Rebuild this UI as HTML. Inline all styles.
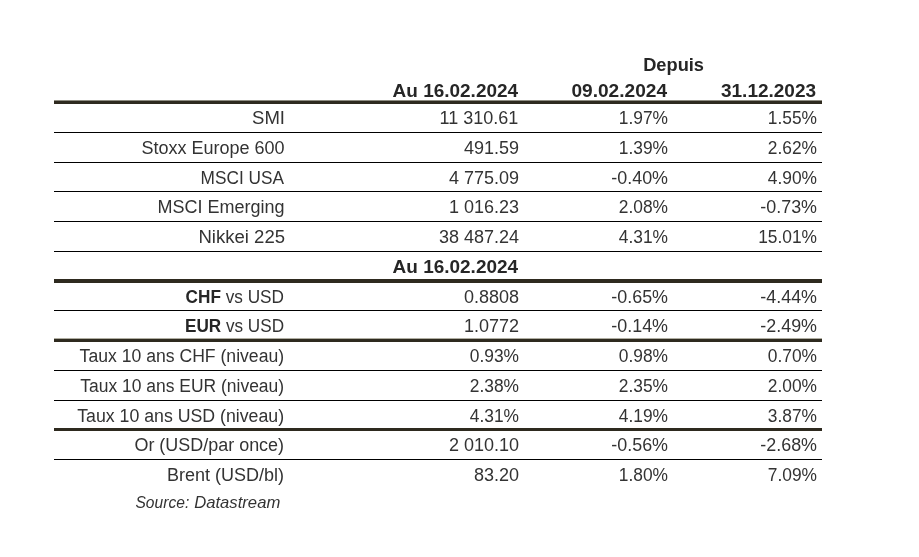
<!DOCTYPE html>
<html lang="fr"><head><meta charset="utf-8"><title>Marchés</title>
<style>
html,body{margin:0;padding:0;background:#fff;}
body{width:919px;height:557px;position:relative;overflow:hidden;font-family:"Liberation Sans",sans-serif;color:#333;font-size:18.0px;}
.t{position:absolute;white-space:nowrap;line-height:20px;height:20px;text-align:right;transform-origin:100% 50%;}
.l{position:absolute;left:54px;width:768px;background:#000;height:1px;}
.k{background:#2e2a1f;height:3px;}
.f{background:#b0aea2;}
b{font-weight:bold;color:#262626;}
i{font-style:italic;}
.w{display:inline-block;}
</style></head><body>

<main role="table" aria-label="Marchés">
<div role="row">
<div class="t" role="columnheader" style="right:215.1px;top:55px;transform:scaleX(1.014);color:#111;"><b>Depuis</b></div>
</div><div role="row">
<div class="t" role="columnheader" style="right:401.0px;top:81px;transform:scaleX(1.054);"><b>Au 16.02.2024</b></div>
<div class="t" role="columnheader" style="right:251.9px;top:81px;transform:scaleX(1.062);"><b>09.02.2024</b></div>
<div class="t" role="columnheader" style="right:103.2px;top:81px;transform:scaleX(1.056);"><b>31.12.2023</b></div>
</div>
<div role="row">
<div class="t" role="rowheader" style="right:634.4px;top:108px;transform:scaleX(1.030);">SMI</div>
<div class="t" role="cell" style="right:400.8px;top:108px;">11 310.61</div>
<div class="t" role="cell" style="right:250.7px;top:108px;transform:scaleX(0.965);">1.97%</div>
<div class="t" role="cell" style="right:102.0px;top:108px;transform:scaleX(0.965);">1.55%</div>
</div>
<div role="row">
<div class="t" role="rowheader" style="right:634.4px;top:138px;">Stoxx Europe 600</div>
<div class="t" role="cell" style="right:400.0px;top:138px;">491.59</div>
<div class="t" role="cell" style="right:250.7px;top:138px;transform:scaleX(0.965);">1.39%</div>
<div class="t" role="cell" style="right:102.0px;top:138px;transform:scaleX(0.965);">2.62%</div>
</div>
<div role="row">
<div class="t" role="rowheader" style="right:635.2px;top:168px;transform:scaleX(0.959);">MSCI USA</div>
<div class="t" role="cell" style="right:400.0px;top:168px;">4 775.09</div>
<div class="t" role="cell" style="right:250.7px;top:168px;transform:scaleX(0.995);">-0.40%</div>
<div class="t" role="cell" style="right:102.0px;top:168px;transform:scaleX(0.965);">4.90%</div>
</div>
<div role="row">
<div class="t" role="rowheader" style="right:634.4px;top:197px;">MSCI Emerging</div>
<div class="t" role="cell" style="right:400.0px;top:197px;">1 016.23</div>
<div class="t" role="cell" style="right:250.7px;top:197px;transform:scaleX(0.965);">2.08%</div>
<div class="t" role="cell" style="right:102.0px;top:197px;transform:scaleX(0.995);">-0.73%</div>
</div>
<div role="row">
<div class="t" role="rowheader" style="right:634.4px;top:227px;transform:scaleX(1.030);">Nikkei 225</div>
<div class="t" role="cell" style="right:400.0px;top:227px;">38 487.24</div>
<div class="t" role="cell" style="right:250.7px;top:227px;transform:scaleX(0.965);">4.31%</div>
<div class="t" role="cell" style="right:102.0px;top:227px;transform:scaleX(0.965);">15.01%</div>
</div>
<div role="row">
<div class="t" role="cell" style="right:401.2px;top:257px;transform:scaleX(1.054);"><b>Au 16.02.2024</b></div>
</div>
<div role="row">
<div class="t" role="rowheader" style="right:634.9px;top:287px;transform:scaleX(0.956);"><b>CHF</b> vs USD</div>
<div class="t" role="cell" style="right:400.0px;top:287px;">0.8808</div>
<div class="t" role="cell" style="right:250.7px;top:287px;transform:scaleX(0.995);">-0.65%</div>
<div class="t" role="cell" style="right:102.0px;top:287px;transform:scaleX(0.995);">-4.44%</div>
</div>
<div role="row">
<div class="t" role="rowheader" style="right:634.9px;top:316px;transform:scaleX(0.952);"><b>EUR</b> vs USD</div>
<div class="t" role="cell" style="right:400.0px;top:316px;">1.0772</div>
<div class="t" role="cell" style="right:250.7px;top:316px;transform:scaleX(0.995);">-0.14%</div>
<div class="t" role="cell" style="right:102.0px;top:316px;transform:scaleX(0.995);">-2.49%</div>
</div>
<div role="row">
<div class="t" role="rowheader" style="right:635.4px;top:346px;transform:scaleX(0.978);">Taux 10 ans CHF (niveau)</div>
<div class="t" role="cell" style="right:400.0px;top:346px;transform:scaleX(0.965);">0.93%</div>
<div class="t" role="cell" style="right:250.7px;top:346px;transform:scaleX(0.965);">0.98%</div>
<div class="t" role="cell" style="right:102.0px;top:346px;transform:scaleX(0.965);">0.70%</div>
</div>
<div role="row">
<div class="t" role="rowheader" style="right:635.4px;top:376px;transform:scaleX(0.970);">Taux 10 ans EUR (niveau)</div>
<div class="t" role="cell" style="right:400.0px;top:376px;transform:scaleX(0.965);">2.38%</div>
<div class="t" role="cell" style="right:250.7px;top:376px;transform:scaleX(0.965);">2.35%</div>
<div class="t" role="cell" style="right:102.0px;top:376px;transform:scaleX(0.965);">2.00%</div>
</div>
<div role="row">
<div class="t" role="rowheader" style="right:635.4px;top:406px;transform:scaleX(0.985);">Taux 10 ans USD (niveau)</div>
<div class="t" role="cell" style="right:400.0px;top:406px;transform:scaleX(0.965);">4.31%</div>
<div class="t" role="cell" style="right:250.7px;top:406px;transform:scaleX(0.965);">4.19%</div>
<div class="t" role="cell" style="right:102.0px;top:406px;transform:scaleX(0.965);">3.87%</div>
</div>
<div role="row">
<div class="t" role="rowheader" style="right:635.2px;top:435px;transform:scaleX(0.997);">Or (USD/par once)</div>
<div class="t" role="cell" style="right:400.0px;top:435px;">2 010.10</div>
<div class="t" role="cell" style="right:250.7px;top:435px;transform:scaleX(0.995);">-0.56%</div>
<div class="t" role="cell" style="right:102.0px;top:435px;transform:scaleX(0.995);">-2.68%</div>
</div>
<div role="row">
<div class="t" role="rowheader" style="right:634.9px;top:465px;">Brent (USD/bl)</div>
<div class="t" role="cell" style="right:400.0px;top:465px;">83.20</div>
<div class="t" role="cell" style="right:250.7px;top:465px;transform:scaleX(0.965);">1.80%</div>
<div class="t" role="cell" style="right:102.0px;top:465px;transform:scaleX(0.965);">7.09%</div>
</div>
</main>
<div class="t" role="note" style="right:638.0px;top:492px;transform:scaleX(0.990);font-size:16.5px;"><i><span class="w" style="transform:scaleX(0.955);transform-origin:0 50%">Source:</span> <span class="w" style="transform:scaleX(1.02);transform-origin:100% 50%">Datastream</span></i></div>
<div class="l" role="presentation" style="top:132px;height:1px"></div>
<div class="l" role="presentation" style="top:162px;height:1px"></div>
<div class="l" role="presentation" style="top:191px;height:1px"></div>
<div class="l" role="presentation" style="top:221px;height:1px"></div>
<div class="l" role="presentation" style="top:251px;height:1px"></div>
<div class="l" role="presentation" style="top:310px;height:1px"></div>
<div class="l" role="presentation" style="top:370px;height:1px"></div>
<div class="l" role="presentation" style="top:400px;height:1px"></div>
<div class="l" role="presentation" style="top:459px;height:1px"></div>
<div class="l" role="presentation" style="top:100px;height:1px;background:#8f8d82"></div>
<div class="l k" role="presentation" style="top:101px;height:3px"></div>
<div class="l k" role="presentation" style="top:279px;height:1px"></div>
<div class="l k" role="presentation" style="top:280px;height:3px"></div>
<div class="l f" role="presentation" style="top:338px;height:1px"></div>
<div class="l k" role="presentation" style="top:339px;height:3px"></div>
<div class="l k" role="presentation" style="top:428px;height:3px"></div>
</body></html>
